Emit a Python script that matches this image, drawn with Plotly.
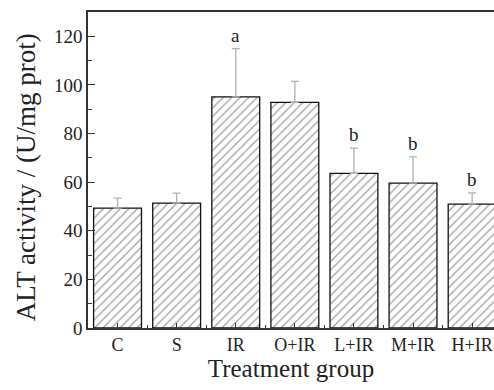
import plotly.graph_objects as go

categories = ["C", "S", "IR", "O+IR", "L+IR", "M+IR", "H+IR"]
alt_mean = [49.3, 51.4, 95.1, 92.8, 63.6, 59.6, 51.0]
alt_sd = [4.1, 4.1, 19.8, 8.7, 10.4, 10.8, 4.6]
sig_letters = ["", "", "a", "", "b", "b", "b"]
y_ticks = [0, 20, 40, 60, 80, 100, 120]

xpos = list(range(len(categories)))
font_family = "Liberation Serif, Times New Roman, serif"
ink = "#222222"

fig = go.Figure()
fig.add_trace(go.Bar(
    x=xpos, y=alt_mean, width=0.81,
    marker=dict(color="white", line=dict(color="#111111", width=1.3),
                pattern=dict(shape="/", size=6, solidity=0.22, fgcolor="#444444", bgcolor="white")),
    error_y=dict(type="data", array=alt_sd, symmetric=False, arrayminus=[0]*len(alt_sd),
                 color="#b0b0b0", thickness=1.3, width=4),
    showlegend=False,
))

for x, m, s, t in zip(xpos, alt_mean, alt_sd, sig_letters):
    if t:
        fig.add_annotation(x=x, y=m + s, text=t, showarrow=False, yanchor="bottom", yshift=1,
                           font=dict(family=font_family, size=19, color=ink))

# y-axis title as annotation for precise placement
fig.add_annotation(xref="paper", yref="y", x=0, y=62, xshift=-62, text="ALT activity / (U/mg prot)",
                   textangle=-90, showarrow=False, xanchor="center", yanchor="middle",
                   font=dict(family=font_family, size=27, color=ink))

fig.update_layout(
    width=494, height=390, margin=dict(l=88, r=0, t=12, b=62),
    paper_bgcolor="white", plot_bgcolor="white",
    font=dict(family=font_family, color=ink),
    bargap=0.19,
)
fig.update_xaxes(
    range=[-0.5, 6.5 - 0.13], tickvals=xpos, ticktext=categories,
    showline=True, linecolor="#333333", linewidth=1.6, mirror=True,
    ticks="inside", ticklen=5, tickcolor="#333333",
    minor=dict(tickvals=[i + 0.5 for i in xpos], ticks="inside", ticklen=3, tickcolor="#333333"),
    tickfont=dict(size=18, family=font_family, color=ink),
    title=dict(text="Treatment group", font=dict(size=25, family=font_family, color=ink), standoff=4),
    showgrid=False, zeroline=False,
)
fig.update_yaxes(
    range=[0, 130], tickvals=y_ticks,
    showline=True, linecolor="#333333", linewidth=1.6,
    ticks="inside", ticklen=7, tickcolor="#333333",
    minor=dict(dtick=10, tick0=0, ticks="inside", ticklen=4, tickcolor="#333333"),
    tickfont=dict(size=19, family=font_family, color=ink),
    showgrid=False, zeroline=False,
)

fig.write_html("out.html")
